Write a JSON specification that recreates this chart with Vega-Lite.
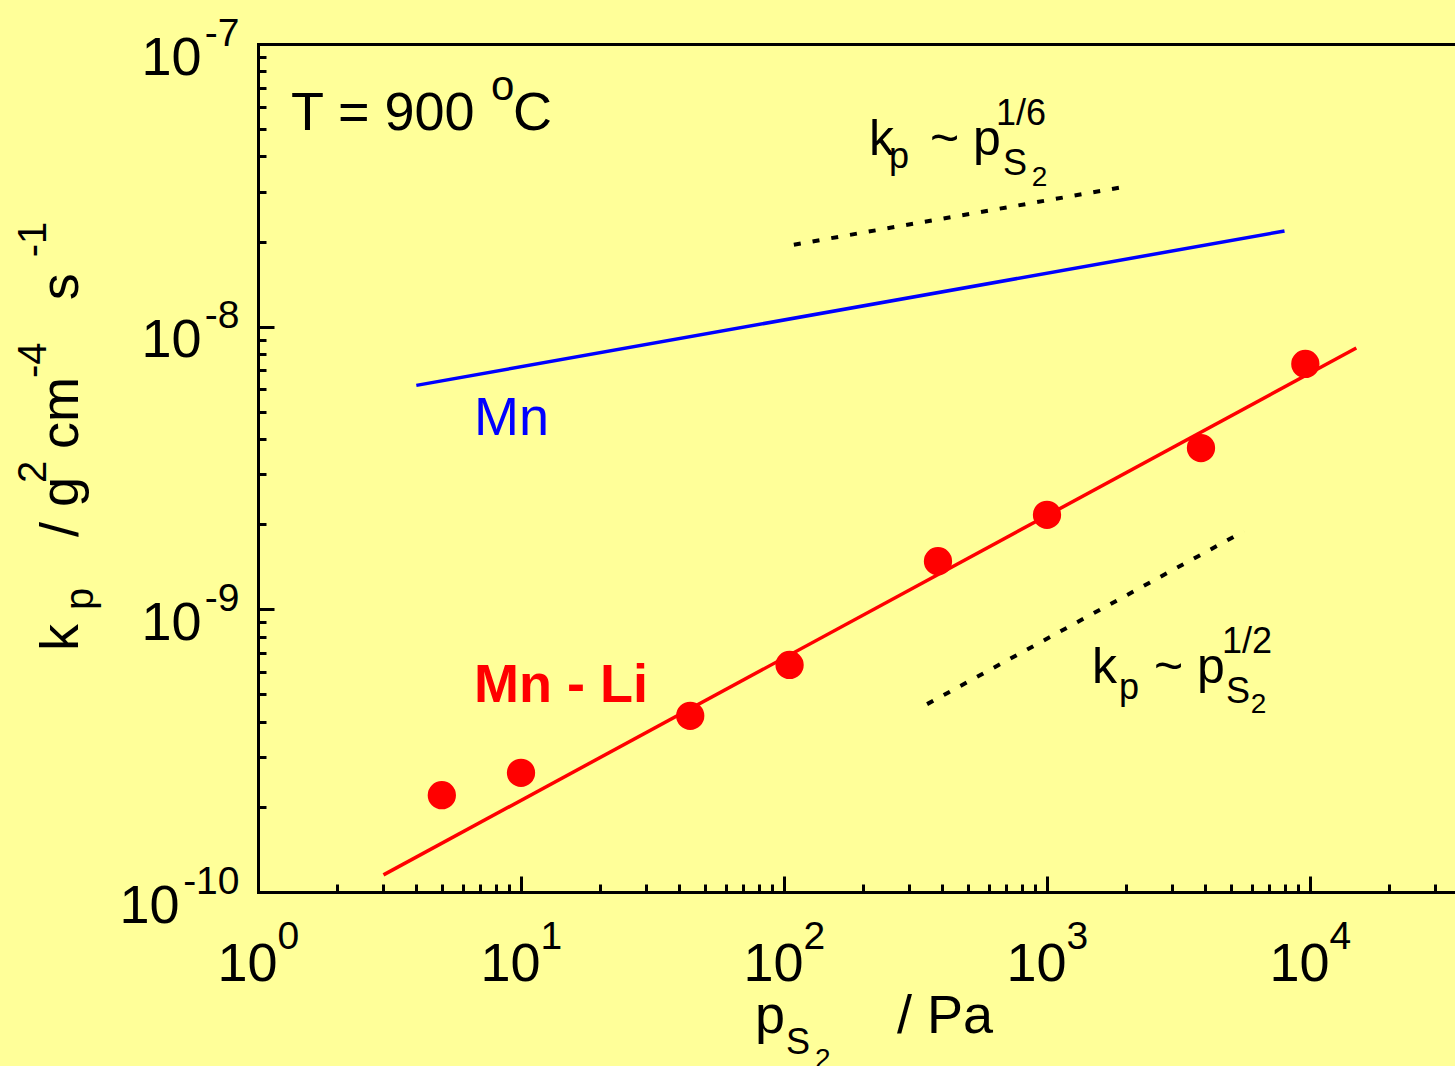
{
  "$schema": "https://vega.github.io/schema/vega-lite/v6.json",
  "width": 1197,
  "height": 848,
  "autosize": {"type": "none"},
  "padding": {"left": 258, "top": 44, "right": 0, "bottom": 174},
  "background": "#FFFF99",
  "config": {
    "view": {"stroke": null},
    "axis": {
      "grid": false,
      "labelFont": "Liberation Sans",
      "labelColor": "black",
      "domainColor": "black",
      "tickColor": "black",
      "domainWidth": 3,
      "tickWidth": 3,
      "domainCap": "square",
      "labelFlush": false,
      "labelOverlap": false
    },
    "text": {"font": "Liberation Sans", "color": "black", "align": "left", "baseline": "alphabetic"}
  },
  "datasets": {
    "points": [
      {"x": 5, "y": 2.2e-10},
      {"x": 10, "y": 2.64e-10},
      {"x": 44, "y": 4.2e-10},
      {"x": 105, "y": 6.36e-10},
      {"x": 385, "y": 1.48e-9},
      {"x": 1000, "y": 2.16e-9},
      {"x": 3850, "y": 3.72e-9},
      {"x": 9600, "y": 7.38e-9}
    ],
    "fit_mnli": [{"x": 3, "y": 1.15e-10}, {"x": 15000, "y": 8.4e-9}],
    "fit_mn": [{"x": 4, "y": 6.2e-9}, {"x": 8000, "y": 2.18e-8}],
    "slopes": [
      {"slope": "1/6", "x": 109, "y": 1.95e-8},
      {"slope": "1/6", "x": 2070, "y": 3.15e-8},
      {"slope": "1/2", "x": 350, "y": 4.62e-10},
      {"slope": "1/2", "x": 5610, "y": 1.89e-9}
    ],
    "txt54": [
      {"x": 1.335, "y": 4.96e-8, "t": "T = 900"},
      {"x": 9.32, "y": 4.96e-8, "t": "C"},
      {"x": 77.6, "y": 3.172e-11, "t": "p"},
      {"x": 268.9, "y": 3.172e-11, "t": "/ Pa"}
    ],
    "txt50": [
      {"x": 210.5, "y": 4.048e-8, "t": "k"},
      {"x": 359, "y": 4.048e-8, "t": "~ p"},
      {"x": 1483, "y": 5.488e-10, "t": "k"},
      {"x": 2552, "y": 5.488e-10, "t": "~ p"}
    ],
    "txt42": [{"x": 7.69, "y": 6.335e-8, "t": "o"}],
    "txt_sub": [
      {"x": 251, "y": 3.641e-8, "t": "p"},
      {"x": 1880, "y": 4.817e-10, "t": "p"},
      {"x": 101.8, "y": 2.672e-11, "t": "S"},
      {"x": 680.5, "y": 3.439e-8, "t": "S"},
      {"x": 640, "y": 5.17e-8, "t": "1/6"},
      {"x": 4793, "y": 4.662e-10, "t": "S"},
      {"x": 4628, "y": 7.009e-10, "t": "1/2"}
    ],
    "txt28": [
      {"x": 875, "y": 3.145e-8, "t": "2"},
      {"x": 5950, "y": 4.298e-10, "t": "2"},
      {"x": 131.2, "y": 2.384e-11, "t": "2"}
    ],
    "label_mn": [{"x": 6.63, "y": 4.137e-9, "t": "Mn"}],
    "label_mnli": [{"x": 6.63, "y": 4.7e-10, "t": "Mn - Li"}],
    "ytitle": [
      {"x": 0.2068, "y": 7.124e-10, "t": "k"},
      {"x": 0.2068, "y": 1.803e-9, "t": "/ g"},
      {"x": 0.2068, "y": 3.691e-9, "t": "cm"},
      {"x": 0.2068, "y": 1.24e-8, "t": "s"}
    ],
    "ytitle_small": [
      {"x": 0.2359, "y": 9.945e-10, "t": "p"},
      {"x": 0.1563, "y": 2.798e-9, "t": "2"},
      {"x": 0.1563, "y": 6.582e-9, "t": "-4"},
      {"x": 0.1563, "y": 1.76e-8, "t": "-1"}
    ]
  },
  "encoding": {
    "x": {"field": "x", "type": "quantitative", "scale": {"type": "log", "domain": [1, 35590], "nice": false}, "axis": null},
    "y": {"field": "y", "type": "quantitative", "scale": {"type": "log", "domain": [1e-10, 1e-7], "nice": false}, "axis": null}
  },
  "layer": [
    {
      "data": {"name": "fit_mn"},
      "mark": {"type": "line", "color": "#0000FF", "strokeWidth": 3.5},
      "encoding": {
        "x": {"field": "x", "type": "quantitative", "scale": {"type": "log", "domain": [1, 35590], "nice": false},
          "axis": {"orient": "bottom", "title": null, "labels": false, "domain": false, "tickSize": -8,
            "values": [2, 3, 4, 5, 6, 7, 8, 9, 20, 30, 40, 50, 60, 70, 80, 90, 200, 300, 400, 500, 600, 700, 800, 900, 2000, 3000, 4000, 5000, 6000, 7000, 8000, 9000, 20000, 30000]}},
        "y": {"field": "y", "type": "quantitative", "scale": {"type": "log", "domain": [1e-10, 1e-7], "nice": false},
          "axis": {"orient": "left", "title": null, "labels": false, "domain": false, "tickSize": -8,
            "values": [2e-10, 3e-10, 4e-10, 5e-10, 6e-10, 7e-10, 8e-10, 9e-10, 2e-9, 3e-9, 4e-9, 5e-9, 6e-9, 7e-9, 8e-9, 9e-9, 2e-8, 3e-8, 4e-8, 5e-8, 6e-8, 7e-8, 8e-8, 9e-8]}}
      }
    },
    {
      "data": {"name": "slopes"},
      "mark": {"type": "line", "color": "black", "strokeWidth": 4, "strokeDash": [7, 12]},
      "encoding": {
        "detail": {"field": "slope"},
        "x": {"field": "x", "type": "quantitative", "scale": {"type": "log", "domain": [1, 35590], "nice": false},
          "axis": {"orient": "bottom", "title": null, "ticks": false, "domain": false,
            "values": [1, 10, 100, 1000, 10000],
            "labelExpr": "'' + round(log(datum.value) / LN10)",
            "labelFontSize": 39, "labelAlign": "left", "labelBaseline": "alphabetic", "labelPadding": 56, "labelOffset": 19}},
        "y": {"field": "y", "type": "quantitative", "scale": {"type": "log", "domain": [1e-10, 1e-7], "nice": false},
          "axis": {"orient": "left", "title": null, "ticks": false, "domain": false,
            "values": [1e-10], "labelExpr": "'10'",
            "labelFontSize": 54, "labelAlign": "right", "labelBaseline": "alphabetic", "labelPadding": 79, "labelOffset": 30}}
      }
    },
    {
      "data": {"name": "fit_mnli"},
      "mark": {"type": "line", "color": "#FF0000", "strokeWidth": 3.5},
      "encoding": {
        "x": {"field": "x", "type": "quantitative", "scale": {"type": "log", "domain": [1, 35590], "nice": false},
          "axis": {"orient": "bottom", "title": null, "labels": false, "domain": true, "tickSize": -16,
            "values": [1, 10, 100, 1000, 10000]}},
        "y": {"field": "y", "type": "quantitative", "scale": {"type": "log", "domain": [1e-10, 1e-7], "nice": false},
          "axis": {"orient": "left", "title": null, "labels": false, "domain": true, "tickSize": -16,
            "values": [1e-10, 1e-9, 1e-8, 1e-7]}}
      }
    },
    {
      "data": {"name": "points"},
      "mark": {"type": "circle", "color": "#FF0000", "opacity": 1, "size": 800},
      "encoding": {
        "x": {"field": "x", "type": "quantitative", "scale": {"type": "log", "domain": [1, 35590], "nice": false},
          "axis": {"orient": "bottom", "title": null, "ticks": false, "domain": false,
            "values": [1, 10, 100, 1000, 10000], "labelExpr": "'10'",
            "labelFontSize": 54, "labelAlign": "right", "labelBaseline": "alphabetic", "labelPadding": 88, "labelOffset": 19}},
        "y": {"field": "y", "type": "quantitative", "scale": {"type": "log", "domain": [1e-10, 1e-7], "nice": false},
          "axis": {"orient": "left", "title": null, "ticks": false, "domain": false,
            "values": [1e-9, 1e-8, 1e-7], "labelExpr": "'10'",
            "labelFontSize": 54, "labelAlign": "right", "labelBaseline": "alphabetic", "labelPadding": 57, "labelOffset": 30}}
      }
    },
    {
      "data": {"name": "txt54"},
      "mark": {"type": "text", "fontSize": 54},
      "encoding": {
        "text": {"field": "t"},
        "x": {"field": "x", "type": "quantitative", "scale": {"type": "log", "domain": [1, 35590], "nice": false},
          "axis": {"orient": "top", "title": null, "ticks": false, "labels": false, "domain": true, "values": []}},
        "y": {"field": "y", "type": "quantitative", "scale": {"type": "log", "domain": [1e-10, 1e-7], "nice": false},
          "axis": {"orient": "left", "title": null, "ticks": false, "domain": false,
            "values": [1e-10, 1e-9, 1e-8, 1e-7],
            "labelExpr": "'' + round(log(datum.value) / LN10)",
            "labelFontSize": 39, "labelAlign": "right", "labelBaseline": "alphabetic", "labelPadding": 19, "labelOffset": 1}}
      }
    },
    {
      "data": {"name": "txt50"},
      "mark": {"type": "text", "fontSize": 50},
      "encoding": {"text": {"field": "t"}}
    },
    {
      "data": {"name": "txt42"},
      "mark": {"type": "text", "fontSize": 42},
      "encoding": {"text": {"field": "t"}}
    },
    {
      "data": {"name": "txt_sub"},
      "mark": {"type": "text", "fontSize": 36},
      "encoding": {"text": {"field": "t"}}
    },
    {
      "data": {"name": "txt28"},
      "mark": {"type": "text", "fontSize": 28},
      "encoding": {"text": {"field": "t"}}
    },
    {
      "data": {"name": "label_mn"},
      "mark": {"type": "text", "fontSize": 54, "color": "#0000FF"},
      "encoding": {"text": {"field": "t"}}
    },
    {
      "data": {"name": "label_mnli"},
      "mark": {"type": "text", "fontSize": 54, "fontWeight": "bold", "color": "#FF0000"},
      "encoding": {"text": {"field": "t"}}
    },
    {
      "data": {"name": "ytitle"},
      "mark": {"type": "text", "fontSize": 54, "angle": 270},
      "encoding": {"text": {"field": "t"}}
    },
    {
      "data": {"name": "ytitle_small"},
      "mark": {"type": "text", "fontSize": 40, "angle": 270},
      "encoding": {"text": {"field": "t"}}
    }
  ],
  "resolve": {"axis": {"x": "independent", "y": "independent"}}
}
